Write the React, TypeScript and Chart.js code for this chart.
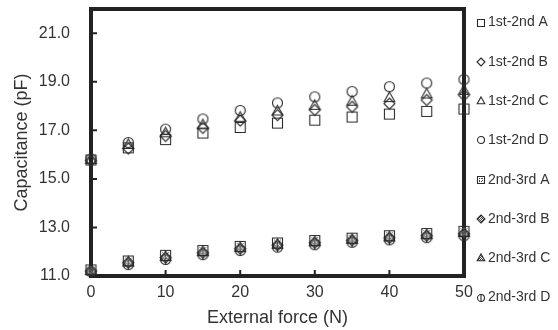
import React, { useEffect, useRef } from "react";
import { Chart, registerables } from "chart.js";

Chart.register(...registerables);

// ---- data ----
const forces = [0, 5, 10, 15, 20, 25, 30, 35, 40, 45, 50];
const s12A = [15.78, 16.28, 16.62, 16.89, 17.12, 17.3, 17.42, 17.55, 17.67, 17.78, 17.88];
const s12B = [15.75, 16.25, 16.77, 17.1, 17.4, 17.63, 17.84, 17.97, 18.1, 18.25, 18.45];
const s12C = [15.8, 16.42, 16.9, 17.23, 17.54, 17.8, 18.03, 18.2, 18.35, 18.5, 18.65];
const s12D = [15.82, 16.5, 17.05, 17.47, 17.82, 18.13, 18.38, 18.6, 18.8, 18.95, 19.1];
const s23A = [11.25, 11.62, 11.85, 12.05, 12.22, 12.36, 12.46, 12.56, 12.66, 12.75, 12.84];
const s23B = [11.2, 11.55, 11.76, 11.96, 12.13, 12.27, 12.37, 12.47, 12.57, 12.66, 12.74];
const s23C = [11.23, 11.58, 11.8, 12.0, 12.17, 12.31, 12.41, 12.51, 12.61, 12.7, 12.79];
const s23D = [11.18, 11.47, 11.68, 11.88, 12.05, 12.19, 12.29, 12.39, 12.49, 12.58, 12.66];
const seriesNames = [
  "1st-2nd A", "1st-2nd B", "1st-2nd C", "1st-2nd D",
  "2nd-3rd A", "2nd-3rd B", "2nd-3rd C", "2nd-3rd D",
];
const seriesValues = [s12A, s12B, s12C, s12D, s23A, s23B, s23C, s23D];
const markerKinds = [
  "square", "diamond", "triangle", "circle",
  "squareDot", "diamondHatch", "triangleHatch", "circleBar",
];
const xTicks = [0, 10, 20, 30, 40, 50];
const yTicks = [11, 13, 15, 17, 19, 21];

const FONT = "'Liberation Sans', Arial, sans-serif";
const INK = "#333333";
const MARK = "#2a2a2a";
const FRAME = "#222222";

function makeMarker(kind: string, size: number, hatchGap: number, hatchColor: string): HTMLCanvasElement {
  const w = size + 4;
  const c = document.createElement("canvas");
  c.width = w;
  c.height = w;
  const ctx = c.getContext("2d")!;
  const cx = w / 2;
  const cy = w / 2;
  const r = size / 2 - 0.5;
  const path = () => {
    ctx.beginPath();
    if (kind.startsWith("square")) {
      ctx.rect(cx - r, cy - r, 2 * r, 2 * r);
    } else if (kind.startsWith("diamond")) {
      ctx.moveTo(cx, cy - r - 0.5);
      ctx.lineTo(cx + r + 0.5, cy);
      ctx.lineTo(cx, cy + r + 0.5);
      ctx.lineTo(cx - r - 0.5, cy);
      ctx.closePath();
    } else if (kind.startsWith("triangle")) {
      ctx.moveTo(cx, cy - r - 0.5);
      ctx.lineTo(cx + r + 0.3, cy + r * 0.8);
      ctx.lineTo(cx - r - 0.3, cy + r * 0.8);
      ctx.closePath();
    } else {
      ctx.arc(cx, cy, r, 0, Math.PI * 2);
    }
  };
  ctx.lineWidth = 1.1;
  if (kind.endsWith("Hatch")) {
    ctx.save();
    path();
    ctx.clip();
    ctx.strokeStyle = hatchColor;
    ctx.lineWidth = 1;
    for (let k = -w; k < 2 * w; k += hatchGap) {
      ctx.beginPath();
      ctx.moveTo(k, 0);
      ctx.lineTo(k + w, w);
      ctx.stroke();
    }
    ctx.restore();
  }
  ctx.strokeStyle = MARK;
  ctx.lineWidth = 1.1;
  path();
  ctx.stroke();
  if (kind === "squareDot") {
    ctx.fillStyle = hatchColor;
    const a = cx - r + 1.5;
    const b = cx + r - 2.5;
    for (let t = a; t <= b + 0.01; t += 2) {
      ctx.fillRect(t, a, 1, 1);
      ctx.fillRect(t, b, 1, 1);
      ctx.fillRect(a, t, 1, 1);
      ctx.fillRect(b, t, 1, 1);
    }
  }
  if (kind === "circleBar") {
    ctx.beginPath();
    ctx.moveTo(cx, cy - r);
    ctx.lineTo(cx, cy + r);
    ctx.stroke();
  }
  return c;
}

export default function App() {
  const ref = useRef<HTMLCanvasElement | null>(null);

  useEffect(() => {
    if (!ref.current) return;
    const dataMarkers = markerKinds.map((k) => makeMarker(k, 11, 3, "#777777"));
    const legendMarkers = markerKinds.map((k) => makeMarker(k, 8, 2, "#444444"));

    const framePlugin = {
      id: "frame",
      beforeDatasetsDraw(chart: any) {
        const { ctx, chartArea } = chart;
        const { left, top, right, bottom } = chartArea;
        ctx.save();
        ctx.strokeStyle = FRAME;
        ctx.lineWidth = 4;
        ctx.strokeRect(left, top, right - left, bottom - top);
        ctx.lineWidth = 2;
        const xs = chart.scales.x;
        const ys = chart.scales.y;
        ctx.beginPath();
        xTicks.forEach((v) => {
          const px = xs.getPixelForValue(v);
          ctx.moveTo(px, bottom);
          ctx.lineTo(px, bottom - 6);
        });
        yTicks.forEach((v) => {
          const py = ys.getPixelForValue(v);
          ctx.moveTo(left, py);
          ctx.lineTo(left + 6, py);
        });
        ctx.stroke();
        ctx.restore();
      },
    };

    const legendPlugin = {
      id: "sideLegend",
      afterDraw(chart: any) {
        const { ctx } = chart;
        ctx.save();
        ctx.font = `14px ${FONT}`;
        ctx.fillStyle = INK;
        ctx.textBaseline = "middle";
        ctx.textAlign = "left";
        seriesNames.forEach((name, i) => {
          const y = 22.5 + 39.3 * i;
          const m = legendMarkers[i];
          ctx.drawImage(m, Math.round(481 - m.width / 2), Math.round(y - m.height / 2));
          ctx.fillText(name, 488, y);
        });
        ctx.restore();
      },
    };

    const chart = new Chart(ref.current, {
      type: "scatter",
      data: {
        datasets: seriesNames.map((name, i) => ({
          label: name,
          data: forces.map((f, j) => ({ x: f, y: seriesValues[i][j] })),
          pointStyle: dataMarkers[i] as any,
          pointRadius: 6,
          showLine: false,
          clip: false as any,
        })),
      },
      options: {
        animation: false,
        responsive: false,
        events: [],
        layout: { padding: { top: 9, right: 94, left: 0, bottom: 0 }, autoPadding: false },
        plugins: { legend: { display: false }, tooltip: { enabled: false } },
        scales: {
          x: {
            type: "linear",
            min: 0,
            max: 50,
            afterBuildTicks: (s: any) => {
              s.ticks = xTicks.map((v) => ({ value: v }));
            },
            afterFit: (s: any) => {
              s.height = 54;
              s.paddingLeft = 0;
              s.paddingRight = 0;
            },
            grid: { display: false, drawTicks: false },
            border: { display: false },
            ticks: { padding: 7, color: INK, font: { size: 16, family: FONT } },
            title: {
              display: true,
              text: "External force (N)",
              color: INK,
              font: { size: 18, family: FONT },
              padding: { top: 0, bottom: 1 },
            },
          },
          y: {
            type: "linear",
            min: 11,
            max: 22,
            afterBuildTicks: (s: any) => {
              s.ticks = yTicks.map((v) => ({ value: v }));
            },
            afterFit: (s: any) => {
              s.width = 91;
              s.paddingTop = 0;
              s.paddingBottom = 0;
            },
            grid: { display: false, drawTicks: false },
            border: { display: false },
            ticks: {
              padding: 21,
              color: INK,
              font: { size: 16, family: FONT },
              callback: (v: any) => Number(v).toFixed(1),
            },
            title: {
              display: true,
              text: "Capacitance (pF)",
              color: INK,
              font: { size: 18, family: FONT },
              padding: { top: 11, bottom: 0 },
            },
          },
        },
      },
      plugins: [framePlugin, legendPlugin],
    });
    return () => chart.destroy();
  }, []);

  return (
    <div style={{ position: "absolute", left: 0, top: 0, width: 558, height: 330, background: "#fff" }}>
      <canvas ref={ref} width={558} height={330} style={{ display: "block" }} />
    </div>
  );
}
